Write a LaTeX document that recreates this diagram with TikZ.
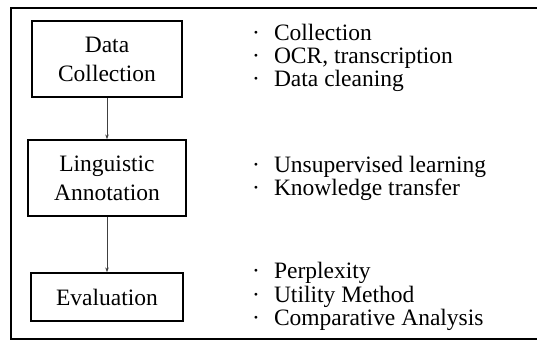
\documentclass[tikz,border=0pt]{standalone}
\usepackage{fontspec}
\setmainfont{Liberation Serif}
\usetikzlibrary{arrows.meta}
\begin{document}
\begin{tikzpicture}[x=1pt, y=-1pt,
  stage/.style={draw, line width=1.3pt, rectangle, inner sep=0pt, align=center,
    font=\fontsize{23.5}{29}\selectfont},
  flow/.style={draw=black!75, line width=0.8pt, -{Stealth[length=5pt,width=3.5pt]}},
  item/.style={anchor=base west, inner sep=0pt, font=\fontsize{23.5}{28}\selectfont}
]
\useasboundingbox (0,0) rectangle (537,348);

% outer frame (open on the right)
\draw[line width=2pt] (537,7.5) -- (11,7.5) -- (11,338.5) -- (537,338.5);

% pipeline stages
\node[stage, minimum width=150pt, minimum height=76pt] (data) at (107,59) {Data\\Collection};
\node[stage, minimum width=158pt, minimum height=76pt] (ling) at (107,178) {Linguistic\\Annotation};
\node[stage, minimum width=152pt, minimum height=48pt] (eval) at (107,297) {Evaluation};

\draw[flow] (data) -- (ling);
\draw[flow] (ling) -- (eval);

% details of each stage
\newcommand{\dotitem}[1]{\textperiodcentered\hspace{14pt}#1}
\node[item] (c1) at (252,40) {\dotitem{Collection}};
\node[item] (c2) at (252,63) {\dotitem{OCR, transcription}};
\node[item] (c3) at (252,86) {\dotitem{Data cleaning}};

\node[item] (a1) at (252,172) {\dotitem{Unsupervised learning}};
\node[item] (a2) at (252,195) {\dotitem{Knowledge transfer}};

\node[item] (e1) at (252,278.5) {\dotitem{Perplexity}};
\node[item] (e2) at (252,302) {\dotitem{Utility Method}};
\node[item] (e3) at (252,325) {\dotitem{Comparative Analysis}};
\end{tikzpicture}
\end{document}
